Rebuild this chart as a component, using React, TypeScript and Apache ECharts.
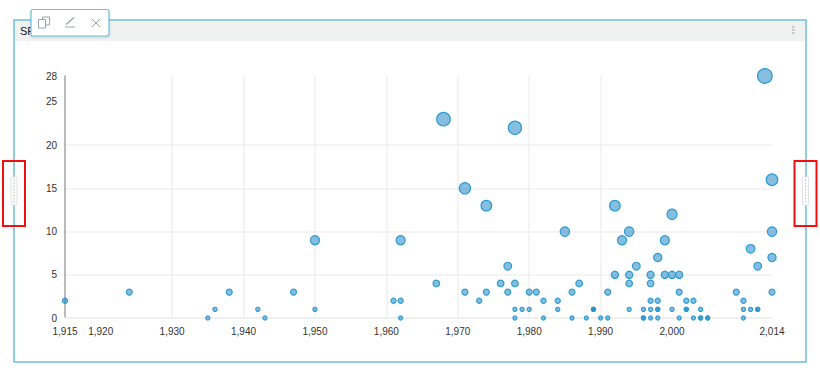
import React, { useEffect, useRef } from "react";
import * as echarts from "echarts";

// [year, count] points; repeats are overlapping points.
const largePoints = [
  [1950, 9], [1962, 9], [1968, 23], [1971, 15], [1974, 13], [1978, 22], [1985, 10],
  [1992, 13], [1993, 9], [1994, 10], [1999, 9], [2000, 12], [2011, 8], [2012, 6],
  [2013, 28], [2014, 16], [2014, 10], [2014, 7], [1977, 6], [1995, 6], [1998, 7],
];
const midPoints = [
  [1915, 2], [1924, 3], [1938, 3], [1947, 3], [1961, 2], [1962, 2], [1967, 4], [1971, 3],
  [1973, 2], [1974, 3], [1976, 4], [1977, 3], [1978, 4], [1980, 3], [1981, 3], [1982, 2],
  [1984, 2], [1986, 3], [1987, 4], [1991, 3], [1992, 5], [1994, 5], [1994, 4], [1997, 5],
  [1997, 4], [1999, 5], [2000, 5], [2001, 5], [2001, 3], [1997, 2], [1998, 2], [2002, 2],
  [2003, 2], [2009, 3], [2010, 2], [2014, 3],
];
const onePoints = [
  [1936, 1], [1942, 1], [1950, 1], [1978, 1], [1979, 1], [1980, 1], [1984, 1], [1989, 1],
  [1989, 1], [1989, 1], [1994, 1], [1996, 1], [1997, 1], [1998, 1], [1998, 1], [2000, 1],
  [2002, 1], [2002, 1], [2004, 1], [2010, 1], [2011, 1], [2012, 1], [2012, 1],
];
const zeroPoints = [
  [1935, 0], [1943, 0], [1962, 0], [1978, 0], [1982, 0], [1986, 0], [1988, 0], [1990, 0],
  [1991, 0], [1996, 0], [1996, 0], [1997, 0], [1998, 0], [2001, 0], [2003, 0], [2004, 0],
  [2004, 0], [2005, 0], [2005, 0], [2010, 0],
];
const xGridValues = [1920, 1930, 1940, 1950, 1960, 1970, 1980, 1990, 2000];
const xLabelValues = [1915, 1920, 1930, 1940, 1950, 1960, 1970, 1980, 1990, 2000, 2014];
const yGridValues = [0, 5, 10, 15, 20, 25];
const yLabelValues = [0, 5, 10, 15, 20, 25, 28];
const titleText = "SF";

const ACCENT = "#6cc0d9";

export default function App() {
  const ref = useRef<HTMLDivElement>(null);
  useEffect(() => {
    const chart = echarts.init(ref.current!, null, { renderer: "svg" });
    const iconStyle = { stroke: "#9aa5a8", lineWidth: 1, fill: "none" };
    const handle = (x: number) => [
      { type: "rect", z: 10, shape: { x: x - 11, y: 161, width: 22, height: 65 }, style: { fill: "none", stroke: "#f01010", lineWidth: 2 } },
      { type: "rect", z: 11, shape: { x: x - 3, y: 177, width: 6, height: 28, r: 1 }, style: { fill: "#fff", stroke: "#dfe3e3", lineWidth: 1 } },
      ...[0, 1, 2, 3, 4, 5, 6, 7].map((i) => ({
        type: "circle", z: 12, shape: { cx: x, cy: 180 + i * 3.1, r: 0.8 }, style: { fill: "#c8cdcd" },
      })),
    ];
    chart.setOption({
      animation: false,
      textStyle: { fontFamily: "Liberation Sans, Arial, sans-serif" },
      grid: { left: 65, right: 48, top: 76, bottom: 60 },
      xAxis: {
        type: "value", min: 1915, max: 2014,
        axisLine: { show: true, lineStyle: { color: "#f0f0f0", width: 2 } },
        axisTick: { show: false, customValues: xGridValues },
        axisLabel: { customValues: xLabelValues, color: "#333", fontSize: 10, margin: 8, hideOverlap: false, showMinLabel: true, showMaxLabel: true },
        splitLine: { show: true, showMinLine: false, showMaxLine: false, lineStyle: { color: "#f0f0f0", width: 1.5 } },
      },
      yAxis: {
        type: "value", min: 0, max: 28,
        axisLine: { show: true, lineStyle: { color: "#a3a3a3", width: 1.5 } },
        axisTick: { show: false, customValues: yGridValues },
        axisLabel: { customValues: yLabelValues, color: "#333", fontSize: 10, margin: 8, hideOverlap: false },
        splitLine: { show: true, showMinLine: false, showMaxLine: false, lineStyle: { color: "#f0f0f0", width: 1.5 } },
      },
      series: [{
        type: "scatter",
        clip: false,
        data: [...largePoints, ...midPoints, ...onePoints, ...zeroPoints],
        symbolSize: (d: number[]) => Math.max(4, 1.7 + 2.45 * Math.sqrt(d[1])),
        itemStyle: { color: "rgba(15,125,190,0.5)", borderColor: "#2a9bd6", borderWidth: 1.2, opacity: 1 },
      }],
      graphic: [
        { type: "rect", z: 1, shape: { x: 14, y: 20, width: 792, height: 342 }, style: { fill: "none", stroke: ACCENT, lineWidth: 1.5 } },
        { type: "rect", z: 0, shape: { x: 15, y: 21, width: 790, height: 20 }, style: { fill: "#f0f2f2" } },
        { type: "text", z: 2, x: 20, y: 25, style: { text: titleText, fill: "#111", font: "11px Liberation Sans, Arial, sans-serif" } },
        ...[27, 30, 33].map((cy) => ({ type: "rect", z: 2, shape: { x: 792, y: cy - 1, width: 2.5, height: 2 }, style: { fill: "#c4c9c9" } })),
        { type: "rect", z: 5, shape: { x: 31, y: 9.5, width: 78, height: 26.5, r: 2 }, style: { fill: "#fff", stroke: ACCENT, lineWidth: 1.2, shadowBlur: 2, shadowColor: "rgba(0,0,0,0.15)", shadowOffsetY: 1 } },
        { type: "rect", z: 6, shape: { x: 42.5, y: 17, width: 7, height: 8 }, style: iconStyle },
        { type: "rect", z: 7, shape: { x: 38.5, y: 19.5, width: 7, height: 8.5 }, style: { ...iconStyle, fill: "#fff" } },
        { type: "line", z: 6, shape: { x1: 66, y1: 24.5, x2: 74, y2: 17.5 }, style: { stroke: "#9aa5a8", lineWidth: 1.4 } },
        { type: "line", z: 6, shape: { x1: 65, y1: 27, x2: 75, y2: 27 }, style: { stroke: "#9aa5a8", lineWidth: 1 } },
        { type: "line", z: 6, shape: { x1: 92, y1: 19, x2: 100, y2: 27 }, style: { stroke: "#9aa5a8", lineWidth: 1 } },
        { type: "line", z: 6, shape: { x1: 100, y1: 19, x2: 92, y2: 27 }, style: { stroke: "#9aa5a8", lineWidth: 1 } },
        ...handle(14),
        ...handle(805.5),
      ],
    });
    return () => chart.dispose();
  }, []);
  return <div ref={ref} style={{ position: "fixed", left: 0, top: 0, width: 820, height: 378, background: "#fff" }} />;
}
